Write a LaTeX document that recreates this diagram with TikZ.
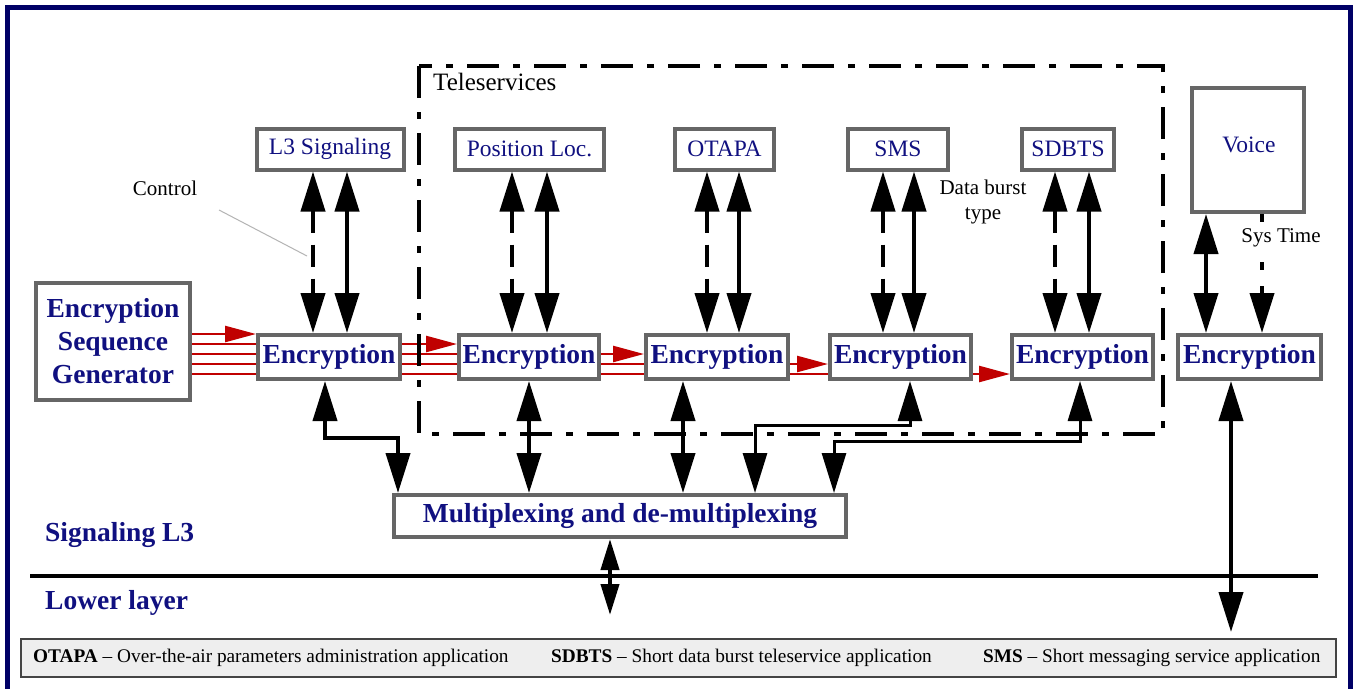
\documentclass[tikz,border=0pt]{standalone}
\usepackage{fontspec}
\setmainfont{Liberation Serif}
\usetikzlibrary{arrows.meta,calc}
\definecolor{navy}{RGB}{0,0,102}
\definecolor{txtblue}{RGB}{16,16,128}
\definecolor{boxgray}{RGB}{102,102,102}
\definecolor{sigred}{RGB}{192,0,0}
\definecolor{legendfill}{RGB}{238,238,238}
\definecolor{legendline}{RGB}{68,68,68}
\definecolor{leadgray}{RGB}{180,180,180}

\begin{document}
\begin{tikzpicture}[x=1pt,y=-1pt,
  box/.style={draw=boxgray,line width=4pt,fill=white,inner sep=0pt,text=txtblue},
  svc/.style={box,font=\fontsize{23.5}{26}\selectfont,minimum height=41pt},
  enc/.style={box,font=\bfseries\fontsize{27.5}{30}\selectfont,minimum height=44pt},
  lbl/.style={font=\fontsize{21}{25}\selectfont,inner sep=1pt},
  layer/.style={font=\bfseries\fontsize{27.5}{30}\selectfont,text=txtblue,anchor=west,inner sep=0pt},
  dbl/.style={line width=4pt,arrows={Triangle[length=40pt,width=24pt]-Triangle[length=40pt,width=24pt]}},
  onehead/.style={line width=4pt,arrows={-Triangle[length=40pt,width=24pt]}},
  smalldbl/.style={line width=4pt,arrows={Triangle[length=31pt,width=18pt]-Triangle[length=31pt,width=18pt]}},
  ctrl/.style={dash pattern=on 22pt off 12pt},
  systime/.style={dash pattern=on 8pt off 16pt},
  dashdot/.style={line width=4pt,dash pattern=on 32pt off 14pt on 7pt off 14pt},
  redline/.style={draw=sigred,line width=2.5pt},
  redarrow/.style={redline,arrows={-Triangle[length=31pt,width=16pt]}},
  legendtxt/.style={font=\fontsize{19.3}{22}\selectfont,anchor=west,inner sep=0pt}
]
\clip (0,0) rectangle (1354,688);
\fill[white] (0,0) rectangle (1354,688);

% outer frame (open at the bottom)
\draw[navy,line width=5pt] (7.5,700) -- (7.5,7.5) -- (1350.5,7.5) -- (1350.5,700);

% service boxes
\node[svc,minimum width=147pt] (l3) at (330,149) {L3 Signaling};
\node[svc,minimum width=149pt] (pos) at (529.5,149) {Position Loc.};
\node[svc,minimum width=99pt] (otapa) at (724.5,149) {OTAPA};
\node[svc,minimum width=100pt] (sms) at (898,149) {SMS};
\node[svc,minimum width=92pt] (sdbts) at (1068,149) {SDBTS};
\node[box,font=\fontsize{23.5}{26}\selectfont,minimum width=112pt,minimum height=124pt,
      text depth=0pt] (voice) at (1248,150) {};
\node[font=\fontsize{23.5}{26}\selectfont,text=txtblue,inner sep=0pt] (voicetxt) at (1249,145) {Voice};

% key generator
\node[box,font=\bfseries\fontsize{27.5}{33}\selectfont,align=center,
      minimum width=154pt,minimum height=117pt] (gen) at (113,341.5)
      {Encryption\\Sequence\\Generator};

% encryption blocks
\node[enc,minimum width=142pt] (e1) at (329,357) {Encryption};
\node[enc,minimum width=140pt] (e2) at (529,357) {Encryption};
\node[enc,minimum width=142pt] (e3) at (717,357) {Encryption};
\node[enc,minimum width=141pt] (e4) at (900.5,357) {Encryption};
\node[enc,minimum width=141pt] (e5) at (1082.5,357) {Encryption};
\node[enc,minimum width=143pt] (e6) at (1249.5,357) {Encryption};

% multiplexer
\node[enc,minimum width=452pt,minimum height=42pt] (mux) at (620,516) {Multiplexing and de-multiplexing};

% key stream lines
\coordinate (r1) at (0,334);
\coordinate (r2) at (0,344);
\coordinate (r3) at (0,354);
\coordinate (r4) at (0,364);
\coordinate (r5) at (0,374);
\draw[redarrow] (gen.east |- r1) -- (e1.west |- r1);
\foreach \r in {r2,r3,r4,r5} \draw[redline] (gen.east |- \r) -- (e1.west |- \r);
\draw[redarrow] (e1.east |- r2) -- (e2.west |- r2);
\foreach \r in {r3,r4,r5} \draw[redline] (e1.east |- \r) -- (e2.west |- \r);
\draw[redarrow] (e2.east |- r3) -- (e3.west |- r3);
\foreach \r in {r4,r5} \draw[redline] (e2.east |- \r) -- (e3.west |- \r);
\draw[redarrow] (e3.east |- r4) -- (e4.west |- r4);
\draw[redline] (e3.east |- r5) -- (e4.west |- r5);
\draw[redarrow] (e4.east |- r5) -- (e5.west |- r5);

% teleservices group
\draw[dashdot] (419,66) rectangle (1163,434);
\node[font=\fontsize{25}{28}\selectfont,anchor=west,inner sep=0pt] (tele) at (433,82) {Teleservices};

% control and data paths between services and encryption blocks
\draw[dbl,ctrl] ([xshift=-17pt]l3.south) -- ([xshift=-17pt]l3.south |- e1.north);
\draw[dbl] ([xshift=17pt]l3.south) -- ([xshift=17pt]l3.south |- e1.north);
\draw[dbl,ctrl] ([xshift=-17.5pt]pos.south) -- ([xshift=-17.5pt]pos.south |- e2.north);
\draw[dbl] ([xshift=17.5pt]pos.south) -- ([xshift=17.5pt]pos.south |- e2.north);
\draw[dbl,ctrl] ([xshift=-17.5pt]otapa.south) -- ([xshift=-17.5pt]otapa.south |- e3.north);
\draw[dbl] ([xshift=14.5pt]otapa.south) -- ([xshift=14.5pt]otapa.south |- e3.north);
\draw[dbl,ctrl] ([xshift=-15pt]sms.south) -- ([xshift=-15pt]sms.south |- e4.north);
\draw[dbl] ([xshift=16pt]sms.south) -- ([xshift=16pt]sms.south |- e4.north);
\draw[dbl,ctrl] ([xshift=-13pt]sdbts.south) -- ([xshift=-13pt]sdbts.south |- e5.north);
\draw[dbl] ([xshift=21pt]sdbts.south) -- ([xshift=21pt]sdbts.south |- e5.north);
\draw[dbl] ([xshift=-42pt]voice.south) -- ([xshift=-42pt]voice.south |- e6.north);
\draw[onehead,systime] ([xshift=14pt]voice.south) -- ([xshift=14pt]voice.south |- e6.north);

% labels
\node[lbl] (ctrllbl) at (165,188) {Control};
\coordinate (ctrlend) at (307,256);
\draw[leadgray,line width=1pt] (219,210) -- (ctrlend);
\node[lbl,align=center,font=\fontsize{21}{25}\selectfont] (dbt) at (983,202) {Data burst\\type};
\node[lbl,fill=white] (st) at (1281,238) {Sys Time};

% encryption blocks to multiplexer
\coordinate (k1a) at (325,438);
\coordinate (k1b) at (398,438);
\draw[dbl] (e1.south -| k1a) -- (k1a) -- (k1b) -- (k1b |- mux.north);
\draw[dbl] (e2.south) -- (e2.south |- mux.north);
\coordinate (k3) at (683,438);
\draw[dbl] (e3.south -| k3) -- (mux.north -| k3);
\coordinate (k4a) at (910,425);
\coordinate (k4b) at (755,425);
\draw[dbl,line width=3pt] (e4.south -| k4a) -- (k4a) -- (k4b) -- (k4b |- mux.north);
\coordinate (k5a) at (1080,441);
\coordinate (k5b) at (834,441);
\draw[dbl,line width=3pt] (e5.south -| k5a) -- (k5a) -- (k5b) -- (k5b |- mux.north);

% layer boundary
\coordinate (bl) at (30,576);
\coordinate (br) at (1318,576);
\draw[line width=4pt] (bl) -- (br);
\node[layer] (sig) at (45,535) {Signaling L3};
\node[layer] (low) at (45,603) {Lower layer};

% paths into the lower layer
\coordinate (muxdown) at (610,615);
\draw[smalldbl] (mux.south -| muxdown) -- (muxdown);
\coordinate (e6down) at (1231,632);
\draw[dbl] (e6.south -| e6down) -- (e6down);

% legend
\node[draw=legendline,line width=2pt,fill=legendfill,minimum width=1315pt,minimum height=38pt,inner sep=0pt] (legend) at (678.5,658) {};
\node[legendtxt] (lg1) at (33,658) {\textbf{OTAPA} – Over-the-air parameters administration application};
\node[legendtxt] (lg2) at (551,658) {\textbf{SDBTS} – Short data burst teleservice application};
\node[legendtxt] (lg3) at (983,658) {\textbf{SMS} – Short messaging service application};
\end{tikzpicture}
\end{document}
